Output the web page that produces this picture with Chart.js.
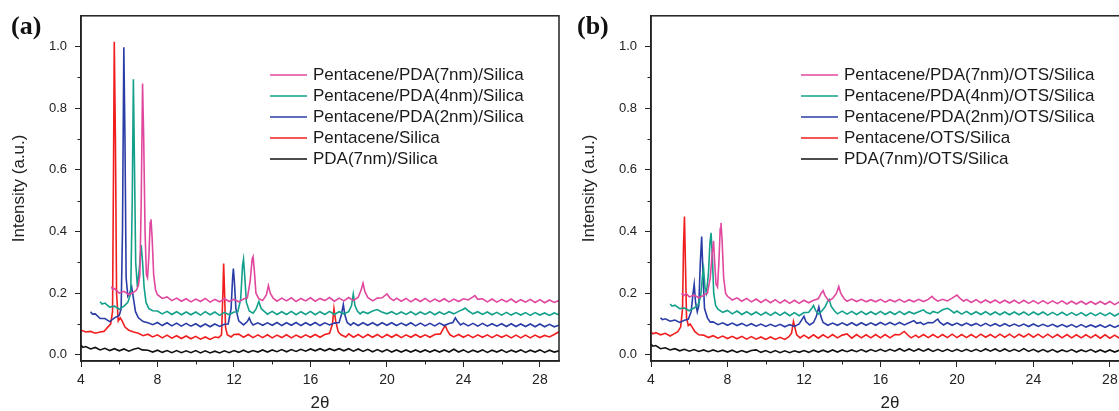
<!DOCTYPE html>
<html>
<head>
<meta charset="utf-8">
<script src="https://cdn.jsdelivr.net/npm/chart.js@4.4.0/dist/chart.umd.min.js"></script>
<style>
html, body { margin: 0; padding: 0; background: #fff; overflow: hidden; width: 1119px; height: 411px; }
.panel { position: absolute; top: 0; width: 570px; height: 414px; }
#pa { left: 0; }
#pb { left: 570px; }
.tag { position: absolute; top: 11px; font: bold 26px "Liberation Serif", "Times New Roman", serif; color: #111; line-height: normal; }
</style>
</head>
<body>
<div class="panel" id="pa"><canvas id="ca" width="570" height="414"></canvas></div>
<div class="panel" id="pb"><canvas id="cb" width="570" height="414"></canvas></div>
<div class="tag" style="left:11px">(a)</div>
<div class="tag" style="left:577px">(b)</div>
<script>
// legend text, top to bottom
const labelsA = ['Pentacene/PDA(7nm)/Silica', 'Pentacene/PDA(4nm)/Silica', 'Pentacene/PDA(2nm)/Silica', 'Pentacene/Silica', 'PDA(7nm)/Silica'];
const labelsB = ['Pentacene/PDA(7nm)/OTS/Silica', 'Pentacene/PDA(4nm)/OTS/Silica', 'Pentacene/PDA(2nm)/OTS/Silica', 'Pentacene/OTS/Silica', 'PDA(7nm)/OTS/Silica'];
const colors = ['#e0479f', '#13a08b', '#2a3ca6', '#f01e1e', '#111111'];

const xTicks = [4, 8, 12, 16, 20, 24, 28];
const xMinor = [6, 10, 14, 18, 22, 26];
const yTicks = [0, 0.2, 0.4, 0.6, 0.8, 1.0];
const yMinor = [0.1, 0.3, 0.5, 0.7, 0.9];

// panel (a) — [2theta, intensity]
const a7 = [[5.6,.222],[5.65,.212],[5.75,.215],[6,.2],[6.25,.206],[6.5,.195],[6.75,.203],[6.9,.21],[7,.225],[7.08,.26],[7.15,.5],[7.22,.88],[7.28,.7],[7.35,.4],[7.42,.26],[7.48,.25],[7.55,.32],[7.62,.43],[7.66,.44],[7.72,.38],[7.8,.26],[7.9,.21],
  [8,.195],[8.25,.183],[8.5,.188],[8.75,.176],[9,.184],[9.25,.174],[9.5,.182],[9.75,.172],[10,.181],[10.25,.173],[10.5,.183],[10.75,.171],[11,.18],[11.25,.172],[11.5,.182],[11.75,.173],[12,.18],[12.25,.172],[12.5,.181],[12.7,.185],[12.85,.24],[12.95,.31],[13,.318],[13.07,.27],[13.15,.2],[13.3,.182],[13.5,.176],[13.7,.195],[13.8,.225],[13.9,.2],[14.05,.184],
  [14.25,.174],[14.5,.184],[14.75,.175],[15,.185],[15.25,.173],[15.5,.183],[15.75,.175],[16,.185],[16.25,.174],[16.5,.183],[16.75,.176],[17,.186],[17.25,.174],[17.5,.184],[17.75,.175],[18,.186],[18.25,.176],[18.5,.187],[18.65,.21],[18.75,.232],[18.85,.205],[19,.186],[19.25,.175],[19.5,.184],[19.75,.185],[20,.198],[20.15,.185],[20.35,.176],
  [20.5,.184],[20.75,.174],[21,.183],[21.25,.172],[21.5,.182],[21.75,.173],[22,.183],[22.25,.172],[22.5,.181],[22.75,.173],[23,.182],[23.25,.172],[23.5,.181],[23.75,.173],[24,.182],[24.25,.178],[24.5,.188],[24.6,.192],[24.75,.18],[25,.182],[25.25,.172],[25.5,.181],[25.75,.171],[26,.18],[26.25,.172],[26.5,.181],[26.75,.17],[27,.179],[27.25,.171],[27.5,.18],[27.75,.17],[28,.179],[28.25,.169],[28.5,.178],[28.75,.17],[29,.176]];
const a4 = [[5,.172],[5.1,.165],[5.25,.168],[5.5,.155],[5.75,.158],[6,.148],[6.25,.158],[6.45,.17],[6.6,.2],[6.68,.5],[6.74,.894],[6.8,.6],[6.86,.3],[6.95,.22],[7.05,.28],[7.15,.356],[7.22,.3],[7.3,.22],[7.4,.17],[7.55,.15],[7.75,.143],
  [8,.142],[8.25,.133],[8.5,.141],[8.75,.131],[9,.14],[9.25,.13],[9.5,.139],[9.75,.13],[10,.139],[10.25,.129],[10.5,.14],[10.75,.13],[11,.139],[11.25,.128],[11.5,.138],[11.75,.13],[12,.139],[12.2,.14],[12.35,.18],[12.45,.29],[12.5,.31],[12.57,.25],[12.65,.17],[12.8,.142],[13,.135],[13.15,.148],[13.3,.173],[13.42,.15],[13.6,.14],[13.75,.132],
  [14,.141],[14.25,.131],[14.5,.14],[14.75,.131],[15,.141],[15.25,.13],[15.5,.14],[15.75,.131],[16,.141],[16.25,.13],[16.5,.14],[16.75,.131],[17,.141],[17.25,.131],[17.5,.14],[17.75,.133],[18,.14],[18.15,.16],[18.24,.197],[18.33,.16],[18.45,.142],[18.6,.133],[18.75,.14],[19,.134],[19.25,.142],[19.5,.147],[19.7,.14],
  [20,.133],[20.25,.14],[20.5,.131],[20.75,.139],[21,.131],[21.25,.14],[21.5,.13],[21.75,.139],[22,.131],[22.25,.14],[22.5,.13],[22.75,.139],[23,.131],[23.25,.14],[23.5,.133],[23.75,.141],[24,.148],[24.1,.152],[24.25,.143],[24.5,.133],[24.75,.14],[25,.131],[25.25,.139],[25.5,.13],[25.75,.138],[26,.129],[26.25,.138],[26.5,.129],[26.75,.137],[27,.129],[27.25,.137],[27.5,.128],[27.75,.137],[28,.129],[28.25,.136],[28.5,.128],[28.75,.136],[29,.13]];
const a2 = [[4.5,.14],[4.6,.132],[4.75,.133],[5,.118],[5.25,.118],[5.5,.108],[5.75,.12],[6,.128],[6.1,.15],[6.17,.4],[6.24,.998],[6.3,.7],[6.36,.25],[6.45,.19],[6.55,.2],[6.65,.22],[6.75,.18],[6.85,.14],[7,.12],[7.25,.108],[7.5,.104],[7.75,.098],
  [8,.105],[8.25,.095],[8.5,.104],[8.75,.094],[9,.103],[9.25,.093],[9.5,.102],[9.75,.093],[10,.101],[10.25,.091],[10.5,.1],[10.75,.091],[11,.1],[11.25,.092],[11.5,.099],[11.7,.1],[11.85,.15],[11.93,.25],[11.97,.28],[12.03,.23],[12.1,.15],[12.25,.11],[12.5,.097],[12.7,.108],[12.8,.12],[12.9,.105],[13,.097],
  [13.25,.104],[13.5,.096],[13.75,.104],[14,.096],[14.25,.105],[14.5,.095],[14.75,.104],[15,.096],[15.25,.105],[15.5,.095],[15.75,.104],[16,.096],[16.25,.105],[16.5,.095],[16.75,.104],[17,.097],[17.25,.103],[17.5,.105],[17.62,.13],[17.72,.163],[17.8,.13],[17.92,.105],[18.1,.096],[18.25,.104],[18.5,.095],[18.75,.104],[19,.096],[19.25,.104],[19.5,.095],[19.75,.104],
  [20,.096],[20.25,.104],[20.5,.095],[20.75,.103],[21,.095],[21.25,.104],[21.5,.094],[21.75,.103],[22,.094],[22.25,.102],[22.5,.094],[22.75,.103],[23,.095],[23.25,.102],[23.45,.105],[23.58,.12],[23.7,.108],[23.85,.097],[24,.103],[24.25,.094],[24.5,.102],[24.75,.093],[25,.102],[25.25,.093],[25.5,.101],[25.75,.093],[26,.101],[26.25,.092],[26.5,.101],[26.75,.092],[27,.1],[27.25,.092],[27.5,.1],[27.75,.091],[28,.1],[28.25,.091],[28.5,.099],[28.75,.091],[29,.096]];
const aPent = [[4,.08],[4.25,.074],[4.5,.076],[4.75,.07],[5,.074],[5.2,.076],[5.4,.09],[5.55,.1],[5.65,.14],[5.7,.6],[5.74,1.016],[5.8,.7],[5.86,.2],[5.95,.11],[6.05,.12],[6.15,.11],[6.3,.09],[6.5,.08],[6.75,.074],[7,.07],[7.25,.062],[7.5,.067],[7.75,.058],
  [8,.065],[8.25,.055],[8.5,.064],[8.75,.054],[9,.062],[9.25,.053],[9.5,.061],[9.75,.052],[10,.06],[10.25,.051],[10.5,.058],[10.75,.05],[11,.058],[11.2,.056],[11.35,.065],[11.42,.2],[11.46,.296],[11.5,.22],[11.56,.09],[11.65,.065],[11.85,.058],[12,.066],[12.25,.067],[12.5,.057],[12.75,.066],
  [13,.056],[13.25,.065],[13.5,.056],[13.75,.065],[14,.055],[14.25,.064],[14.5,.056],[14.75,.065],[15,.055],[15.25,.064],[15.5,.056],[15.75,.065],[16,.057],[16.25,.066],[16.5,.057],[16.75,.066],[17,.07],[17.15,.1],[17.23,.15],[17.32,.11],[17.45,.075],[17.6,.065],[17.85,.058],[18,.068],[18.25,.057],[18.5,.066],[18.75,.056],
  [19,.066],[19.25,.057],[19.5,.066],[19.75,.056],[20,.066],[20.25,.057],[20.5,.066],[20.75,.056],[21,.065],[21.25,.057],[21.5,.066],[21.75,.057],[22,.065],[22.25,.057],[22.5,.066],[22.8,.068],[22.95,.085],[23.05,.095],[23.15,.08],[23.3,.065],[23.5,.058],[23.75,.066],[24,.057],[24.25,.065],[24.5,.056],[24.75,.065],
  [25,.057],[25.25,.065],[25.5,.056],[25.75,.065],[26,.057],[26.25,.064],[26.5,.055],[26.75,.064],[27,.055],[27.25,.064],[27.5,.055],[27.75,.064],[28,.056],[28.25,.063],[28.5,.058],[28.75,.066],[29,.075]];
const aPda = [[4,.032],[4.1,.024],[4.25,.027],[4.5,.019],[4.75,.024],[5,.016],[5.25,.021],[5.5,.014],[5.75,.02],[6,.013],[6.25,.019],[6.5,.012],[6.75,.018],[7,.022],[7.2,.016],[7.5,.015],[7.75,.009],[8,.015],[8.25,.008],[8.5,.014],[8.75,.007],[9,.014],[9.25,.007],[9.5,.013],
  [9.75,.007],[10,.014],[10.25,.006],[10.5,.013],[10.75,.006],[11,.012],[11.25,.006],[11.5,.013],[11.75,.007],[12,.014],[12.25,.008],[12.5,.015],[12.75,.008],[13,.014],[13.25,.009],[13.5,.016],[13.75,.009],[14,.016],[14.25,.01],[14.5,.017],[14.75,.01],[15,.017],[15.25,.011],[15.5,.018],
  [15.75,.012],[16,.019],[16.25,.013],[16.5,.02],[16.75,.013],[17,.02],[17.25,.014],[17.5,.02],[17.75,.013],[18,.02],[18.25,.012],[18.5,.019],[18.75,.011],[19,.018],[19.25,.01],[19.5,.017],[19.75,.01],[20,.017],[20.25,.009],[20.5,.016],[20.75,.009],[21,.016],[21.25,.009],
  [21.5,.016],[21.75,.009],[22,.016],[22.25,.009],[22.5,.016],[22.75,.009],[23,.016],[23.25,.009],[23.5,.018],[23.75,.009],[24,.016],[24.25,.008],[24.5,.015],[24.75,.009],[25,.016],[25.25,.008],[25.5,.015],[25.75,.009],[26,.016],[26.25,.008],[26.5,.015],[26.75,.009],[27,.016],
  [27.25,.008],[27.5,.015],[27.75,.009],[28,.016],[28.25,.008],[28.5,.015],[28.75,.009],[29,.013]];

// panel (b)
const b7 = [[5.6,.2],[5.7,.192],[5.85,.198],[6,.188],[6.25,.194],[6.5,.185],[6.75,.193],[6.95,.2],[7.1,.25],[7.2,.33],[7.27,.37],[7.33,.3],[7.4,.23],[7.48,.22],[7.55,.3],[7.62,.41],[7.66,.428],[7.72,.37],[7.8,.25],[7.9,.2],
  [8,.19],[8.25,.178],[8.5,.185],[8.75,.174],[9,.183],[9.25,.172],[9.5,.181],[9.75,.17],[10,.18],[10.25,.169],[10.5,.179],[10.75,.168],[11,.178],[11.25,.167],[11.5,.177],[11.75,.167],[12,.177],[12.25,.169],[12.5,.177],[12.75,.182],[12.9,.2],[13,.208],[13.1,.192],[13.3,.175],[13.5,.183],[13.7,.2],[13.82,.222],[13.92,.2],[14.1,.182],
  [14.25,.174],[14.5,.181],[14.75,.173],[15,.18],[15.25,.172],[15.5,.179],[15.75,.172],[16,.18],[16.25,.171],[16.5,.179],[16.75,.172],[17,.18],[17.25,.171],[17.5,.179],[17.75,.172],[18,.18],[18.25,.173],[18.5,.18],[18.7,.19],[18.8,.182],[19,.174],[19.25,.18],[19.5,.175],[19.75,.184],[20,.194],[20.15,.184],[20.35,.174],
  [20.5,.18],[20.75,.17],[21,.179],[21.25,.169],[21.5,.178],[21.75,.169],[22,.178],[22.25,.168],[22.5,.177],[22.75,.168],[23,.177],[23.25,.167],[23.5,.177],[23.75,.167],[24,.176],[24.25,.166],[24.5,.176],[24.75,.166],[25,.175],[25.25,.166],[25.5,.175],[25.75,.165],[26,.174],[26.25,.165],[26.5,.174],[26.75,.164],[27,.173],[27.25,.164],[27.5,.173],[27.75,.164],[28,.173],[28.25,.163],[28.5,.172],[28.75,.163],[29,.17]];
const b4 = [[5,.165],[5.1,.158],[5.25,.161],[5.5,.15],[5.75,.152],[6,.143],[6.25,.152],[6.45,.16],[6.6,.19],[6.7,.26],[6.75,.28],[6.82,.22],[6.9,.2],[7,.26],[7.08,.36],[7.14,.396],[7.2,.33],[7.28,.2],[7.38,.16],[7.5,.148],[7.75,.138],
  [8,.144],[8.25,.133],[8.5,.142],[8.75,.131],[9,.14],[9.25,.13],[9.5,.139],[9.75,.129],[10,.138],[10.25,.128],[10.5,.138],[10.75,.128],[11,.138],[11.25,.127],[11.5,.137],[11.75,.127],[12,.137],[12.25,.138],[12.4,.15],[12.5,.16],[12.6,.145],[12.75,.132],[12.9,.14],[13.1,.155],[13.25,.175],[13.32,.18],[13.42,.158],[13.6,.142],[13.75,.133],
  [14,.142],[14.25,.132],[14.5,.141],[14.75,.131],[15,.141],[15.25,.131],[15.5,.14],[15.75,.131],[16,.141],[16.25,.131],[16.5,.14],[16.75,.131],[17,.141],[17.25,.131],[17.5,.14],[17.75,.133],[18,.14],[18.25,.146],[18.4,.138],[18.6,.133],[18.75,.141],[19,.136],[19.25,.146],[19.5,.151],[19.65,.146],[19.85,.136],
  [20,.142],[20.25,.132],[20.5,.141],[20.75,.131],[21,.14],[21.25,.131],[21.5,.14],[21.75,.13],[22,.139],[22.25,.13],[22.5,.139],[22.75,.13],[23,.139],[23.25,.13],[23.5,.139],[23.75,.129],[24,.139],[24.25,.13],[24.5,.139],[24.75,.129],[25,.138],[25.25,.129],[25.5,.138],[25.75,.128],[26,.137],[26.25,.128],[26.5,.137],[26.75,.127],[27,.136],[27.25,.127],[27.5,.136],[27.75,.127],[28,.136],[28.25,.126],[28.5,.135],[28.75,.126],[29,.132]];
const b2 = [[4.5,.12],[4.6,.114],[4.75,.117],[5,.109],[5.25,.113],[5.5,.105],[5.75,.112],[5.95,.115],[6.1,.14],[6.2,.2],[6.26,.229],[6.33,.17],[6.42,.14],[6.5,.16],[6.58,.3],[6.65,.384],[6.72,.26],[6.8,.15],[6.95,.12],[7.1,.106],[7.25,.107],[7.5,.098],[7.75,.104],
  [8,.096],[8.25,.103],[8.5,.095],[8.75,.102],[9,.094],[9.25,.101],[9.5,.093],[9.75,.1],[10,.092],[10.25,.099],[10.5,.092],[10.75,.099],[11,.091],[11.25,.098],[11.5,.092],[11.75,.1],[11.9,.115],[12,.125],[12.1,.108],[12.3,.097],[12.5,.105],[12.65,.125],[12.78,.155],[12.88,.125],[13,.105],
  [13.25,.096],[13.5,.103],[13.75,.096],[14,.104],[14.25,.096],[14.5,.104],[14.75,.095],[15,.104],[15.25,.096],[15.5,.104],[15.75,.096],[16,.105],[16.25,.097],[16.5,.105],[16.75,.097],[17,.105],[17.25,.097],[17.5,.104],[17.75,.111],[17.9,.102],[18.1,.105],[18.25,.098],[18.5,.105],[18.75,.104],[18.9,.112],[19,.116],[19.1,.106],[19.3,.097],
  [19.5,.104],[19.75,.096],[20,.103],[20.25,.095],[20.5,.103],[20.75,.095],[21,.102],[21.25,.094],[21.5,.102],[21.75,.094],[22,.101],[22.25,.093],[22.5,.101],[22.75,.093],[23,.1],[23.25,.093],[23.5,.1],[23.75,.092],[24,.1],[24.25,.092],[24.5,.099],[24.75,.092],[25,.099],[25.25,.091],[25.5,.098],
  [25.75,.091],[26,.098],[26.25,.09],[26.5,.098],[26.75,.09],[27,.097],[27.25,.09],[27.5,.097],[27.75,.089],[28,.097],[28.25,.089],[28.5,.096],[28.75,.089],[29,.093]];
const bPent = [[4,.075],[4.1,.068],[4.25,.072],[4.5,.065],[4.75,.07],[5,.061],[5.2,.068],[5.4,.075],[5.55,.09],[5.65,.15],[5.7,.35],[5.75,.449],[5.8,.3],[5.86,.12],[5.95,.095],[6.05,.1],[6.15,.09],[6.3,.075],[6.5,.065],[6.75,.064],[7,.056],[7.25,.062],[7.5,.054],[7.75,.061],
  [8,.053],[8.25,.06],[8.5,.052],[8.75,.06],[9,.051],[9.25,.059],[9.5,.051],[9.75,.058],[10,.05],[10.25,.058],[10.5,.05],[10.75,.057],[11,.05],[11.2,.058],[11.35,.07],[11.45,.108],[11.52,.09],[11.62,.065],[11.8,.055],[12,.064],[12.25,.054],[12.5,.065],[12.75,.054],
  [13,.065],[13.25,.055],[13.5,.066],[13.75,.055],[14,.064],[14.25,.068],[14.5,.054],[14.75,.066],[15,.055],[15.25,.065],[15.5,.055],[15.75,.066],[16,.055],[16.25,.066],[16.5,.055],[16.75,.066],[17,.065],[17.15,.072],[17.25,.076],[17.4,.066],[17.6,.055],[17.85,.064],
  [18,.056],[18.25,.066],[18.5,.056],[18.75,.066],[19,.056],[19.25,.066],[19.5,.056],[19.75,.067],[20,.056],[20.25,.066],[20.5,.056],[20.75,.066],[21,.056],[21.25,.067],[21.5,.057],[21.75,.066],[22,.056],[22.25,.067],[22.5,.057],[22.75,.067],[23,.056],[23.25,.067],[23.5,.058],[23.75,.068],
  [24,.057],[24.25,.067],[24.5,.056],[24.75,.067],[25,.056],[25.25,.066],[25.5,.055],[25.75,.066],[26,.055],[26.25,.065],[26.5,.055],[26.75,.065],[27,.055],[27.25,.065],[27.5,.054],[27.75,.065],[28,.054],[28.25,.064],[28.5,.054],[28.75,.063],[29,.058]];
const bPda = [[4,.035],[4.1,.028],[4.25,.03],[4.5,.02],[4.75,.023],[5,.016],[5.25,.02],[5.5,.013],[5.75,.018],[6,.012],[6.25,.017],[6.5,.011],[6.75,.016],[7,.01],[7.25,.016],[7.5,.01],[7.75,.015],[8,.009],[8.25,.015],[8.5,.008],[8.75,.014],[9,.008],[9.25,.014],[9.5,.016],
  [9.75,.008],[10,.014],[10.25,.007],[10.5,.014],[10.75,.007],[11,.013],[11.25,.007],[11.5,.013],[11.75,.008],[12,.014],[12.25,.008],[12.5,.015],[12.75,.009],[13,.015],[13.25,.009],[13.5,.016],[13.75,.009],[14,.016],[14.25,.01],[14.5,.016],[14.75,.01],[15,.017],[15.25,.01],
  [15.5,.017],[15.75,.011],[16,.018],[16.25,.011],[16.5,.018],[16.75,.012],[17,.02],[17.25,.012],[17.5,.019],[17.75,.012],[18,.019],[18.25,.012],[18.5,.019],[18.75,.011],[19,.018],[19.25,.011],[19.5,.018],[19.75,.011],[20,.018],[20.25,.011],[20.5,.018],[20.75,.011],
  [21,.018],[21.25,.011],[21.5,.019],[21.75,.012],[22,.019],[22.25,.011],[22.5,.019],[22.75,.011],[23,.018],[23.25,.011],[23.5,.02],[23.75,.011],[24,.018],[24.25,.01],[24.5,.017],[24.75,.01],[25,.017],[25.25,.009],[25.5,.016],[25.75,.01],[26,.017],[26.25,.009],[26.5,.016],
  [26.75,.01],[27,.017],[27.25,.009],[27.5,.016],[27.75,.009],[28,.016],[28.25,.009],[28.5,.015],[28.75,.009],[29,.013]];

const FONT = '"Liberation Sans", Arial, Helvetica, sans-serif';
Chart.defaults.font.family = FONT;
Chart.defaults.color = '#222';

// full box around the plot plus the little minor ticks
const frame = {
  id: 'frame',
  afterDraw(chart) {
    const { ctx, chartArea: a, scales: { x, y } } = chart;
    ctx.save();
    ctx.strokeStyle = '#222';
    ctx.lineWidth = 1.5;
    ctx.strokeRect(a.left, a.top, a.right - a.left, a.bottom - a.top);
    ctx.lineWidth = 1;
    ctx.beginPath();
    xMinor.forEach(v => {
      const px = Math.round(x.getPixelForValue(v)) + 0.5;
      ctx.moveTo(px, a.bottom);
      ctx.lineTo(px, a.bottom + 3.5);
    });
    yMinor.forEach(v => {
      const py = Math.round(y.getPixelForValue(v)) + 0.5;
      ctx.moveTo(a.left, py);
      ctx.lineTo(a.left - 3.5, py);
    });
    ctx.stroke();
    ctx.restore();
  }
};

// legend sitting inside the plot, upper right
const boxLegend = {
  id: 'boxLegend',
  afterDraw(chart, args, opts) {
    const ctx = chart.ctx;
    ctx.save();
    ctx.font = '17px ' + FONT;
    ctx.textBaseline = 'middle';
    chart.data.datasets.forEach((ds, i) => {
      const y = opts.top + i * opts.gap;
      ctx.strokeStyle = ds.borderColor;
      ctx.lineWidth = 1.5;
      ctx.beginPath();
      ctx.moveTo(opts.x, y);
      ctx.lineTo(opts.x + opts.len, y);
      ctx.stroke();
      ctx.fillStyle = '#1a1a1a';
      ctx.fillText(ds.label, opts.x + opts.len + 6, y);
    });
    ctx.restore();
  }
};

function makePanel(id, labels, series, legendX) {
  const datasets = series.map((d, i) => ({
    label: labels[i],
    data: d,
    borderColor: colors[i],
    borderWidth: 1.6,
    pointRadius: 0,
    tension: 0,
    fill: false
  }));
  return new Chart(document.getElementById(id), {
    type: 'line',
    data: { datasets },
    plugins: [frame, boxLegend],
    options: {
      responsive: false,
      animation: false,
      layout: { padding: { top: 13, right: 11, left: 0, bottom: 0 } },
      plugins: {
        legend: { display: false },
        tooltip: { enabled: false },
        boxLegend: { x: legendX, len: 37, top: 75, gap: 21 }
      },
      scales: {
        x: {
          type: 'linear',
          min: 4,
          max: 29,
          afterBuildTicks: s => { s.ticks = xTicks.map(v => ({ value: v })); },
          afterFit: s => { s.height = 53; },
          ticks: { font: { size: 14 }, padding: 5, color: '#222', maxRotation: 0 },
          grid: { drawOnChartArea: false, tickLength: 6, tickColor: '#222', tickWidth: 1 },
          border: { color: '#222', width: 1.5 },
          title: { display: true, text: '2θ', font: { size: 17 }, color: '#222', padding: { top: 0, bottom: 0 } }
        },
        y: {
          min: -0.02,
          max: 1.1,
          afterBuildTicks: s => { s.ticks = yTicks.map(v => ({ value: v })); },
          afterFit: s => { s.width = 81; },
          ticks: { font: { size: 13 }, padding: 8, color: '#222', callback: v => v.toFixed(1) },
          grid: { drawOnChartArea: false, tickLength: 6, tickColor: '#222', tickWidth: 1 },
          border: { color: '#222', width: 1.5 },
          title: { display: true, text: 'Intensity (a.u.)', font: { size: 17 }, color: '#222', padding: { top: 9, bottom: 0 } }
        }
      }
    }
  });
}

makePanel('ca', labelsA, [a7, a4, a2, aPent, aPda], 270);
makePanel('cb', labelsB, [b7, b4, b2, bPent, bPda], 231);
</script>
</body>
</html>
